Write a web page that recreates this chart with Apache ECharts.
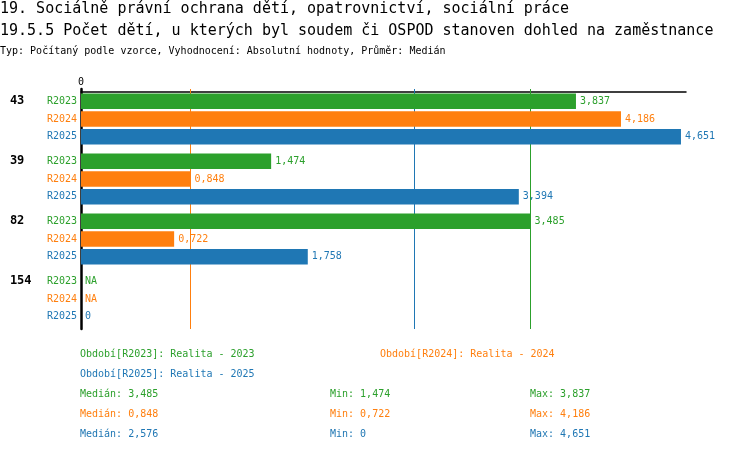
<!DOCTYPE html>
<html>
<head>
    <meta charset="utf-8">
    <title>19.5.5 Počet dětí</title>
    <script src="https://cdn.jsdelivr.net/npm/echarts@6/dist/echarts.min.js"></script>
    <style>
        body { margin: 0; background: #fff; }
    </style>
</head>
<body>
    <div id="main" style="width: 750px;height:452px;"></div>
    <script type="text/javascript">
    // data
    var categories = ['43', '39', '82', '154'];
    var periods = ['R2023', 'R2024', 'R2025'];
    var r2023 = [3.837, 1.474, 3.485, null];
    var r2024 = [4.186, 0.848, 0.722, null];
    var r2025 = [4.651, 3.394, 1.758, 0];
    var legendNames = ['Období[R2023]: Realita - 2023', 'Období[R2024]: Realita - 2024', 'Období[R2025]: Realita - 2025'];

    var values = [r2023, r2024, r2025];
    var colors = ['#2ca02c', '#ff7f0e', '#1f77b4'];
    var mono = '"DejaVu Sans Mono", monospace';

    function fmt(v) {
        if (v === null) return 'NA';
        if (v === 0) return '0';
        return v.toFixed(3).replace('.', ',');
    }

    function stats(arr) {
        var s = arr.filter(function (v) { return v !== null; }).slice().sort(function (a, b) { return a - b; });
        var n = s.length;
        var med = n % 2 ? s[(n - 1) / 2] : (s[n / 2 - 1] + s[n / 2]) / 2;
        return { median: med, min: s[0], max: s[n - 1] };
    }

    var myChart = echarts.init(document.getElementById('main'));

    var series = [];
    var graphic = [];
    values.forEach(function (arr, i) {
        var st = stats(arr);
        series.push({
            name: periods[i],
            type: 'bar',
            barWidth: 15.6,
            barGap: '14%',
            itemStyle: { color: colors[i] },
            data: arr.map(function (v) { return v === null ? 0 : v; }),
            label: {
                show: true,
                position: 'right',
                distance: 4,
                color: colors[i],
                fontFamily: mono,
                fontSize: 10,
                formatter: function (p) { return fmt(arr[p.dataIndex]); }
            },
            markLine: {
                silent: true,
                z: 1,
                symbol: ['none', 'none'],
                label: { show: false },
                lineStyle: { color: colors[i], width: 1, type: 'solid' },
                data: [{ xAxis: st.median }]
            }
        });

        // legend texts
        graphic.push({
            type: 'text',
            left: i === 1 ? 380 : 80,
            top: i === 2 ? 369 : 349,
            style: { text: legendNames[i], fill: colors[i], font: '10px ' + mono }
        });
        // stats rows
        var rowTop = 389 + i * 20;
        graphic.push({ type: 'text', left: 80, top: rowTop,
            style: { text: 'Medián: ' + fmt(st.median), fill: colors[i], font: '10px ' + mono } });
        graphic.push({ type: 'text', left: 330, top: rowTop,
            style: { text: 'Min: ' + fmt(st.min), fill: colors[i], font: '10px ' + mono } });
        graphic.push({ type: 'text', left: 530, top: rowTop,
            style: { text: 'Max: ' + fmt(st.max), fill: colors[i], font: '10px ' + mono } });
    });

    var option = {
        animation: false,
        title: [{
            text: '19. Sociálně právní ochrana dětí, opatrovnictví, sociální práce',
            left: 0, top: 1, padding: 0,
            textStyle: { fontFamily: mono, fontSize: 15, fontWeight: 'normal', color: '#000', lineHeight: 16 }
        }, {
            text: '19.5.5 Počet dětí, u kterých byl soudem či OSPOD stanoven dohled na zaměstnance',
            left: 0, top: 23, padding: 0,
            textStyle: { fontFamily: mono, fontSize: 15, fontWeight: 'normal', color: '#000', lineHeight: 16 }
        }, {
            text: 'Typ: Počítaný podle vzorce, Vyhodnocení: Absolutní hodnoty, Průměr: Medián',
            left: 0, top: 45, padding: 0,
            textStyle: { fontFamily: mono, fontSize: 10, fontWeight: 'normal', color: '#000', lineHeight: 12 }
        }],
        grid: { left: 81, right: 64, top: 89, height: 240, containLabel: false },
        xAxis: {
            type: 'value',
            position: 'top',
            offset: -3,
            min: 0,
            max: 4.69,
            interval: 5,
            axisLine: { show: true, lineStyle: { color: '#000', width: 1.5 } },
            axisTick: { show: false },
            splitLine: { show: false },
            axisLabel: {
                margin: 5,
                color: '#000',
                fontFamily: mono,
                fontSize: 10,
                formatter: function (v) { return v === 0 ? '0' : ''; }
            }
        },
        yAxis: {
            type: 'category',
            data: categories,
            inverse: true,
            axisLine: { show: true, lineStyle: { color: '#000', width: 2.5 } },
            axisTick: { show: false },
            axisLabel: {
                margin: 4,
                align: 'right',
                formatter: function (v) {
                    return '{n|' + v + '}{a|' + periods[0] + '}\n{b|' + periods[1] + '}\n{c|' + periods[2] + '}';
                },
                rich: {
                    n: { width: 37, align: 'left', fontFamily: mono, fontSize: 12, fontWeight: 'bold', color: '#000', lineHeight: 17.7 },
                    a: { align: 'right', fontFamily: mono, fontSize: 10, color: colors[0], lineHeight: 17.7 },
                    b: { align: 'right', fontFamily: mono, fontSize: 10, color: colors[1], lineHeight: 17.7 },
                    c: { align: 'right', fontFamily: mono, fontSize: 10, color: colors[2], lineHeight: 17.7 }
                }
            }
        },
        graphic: graphic,
        series: series
    };

    myChart.setOption(option);
</script>
</body>
</html>
